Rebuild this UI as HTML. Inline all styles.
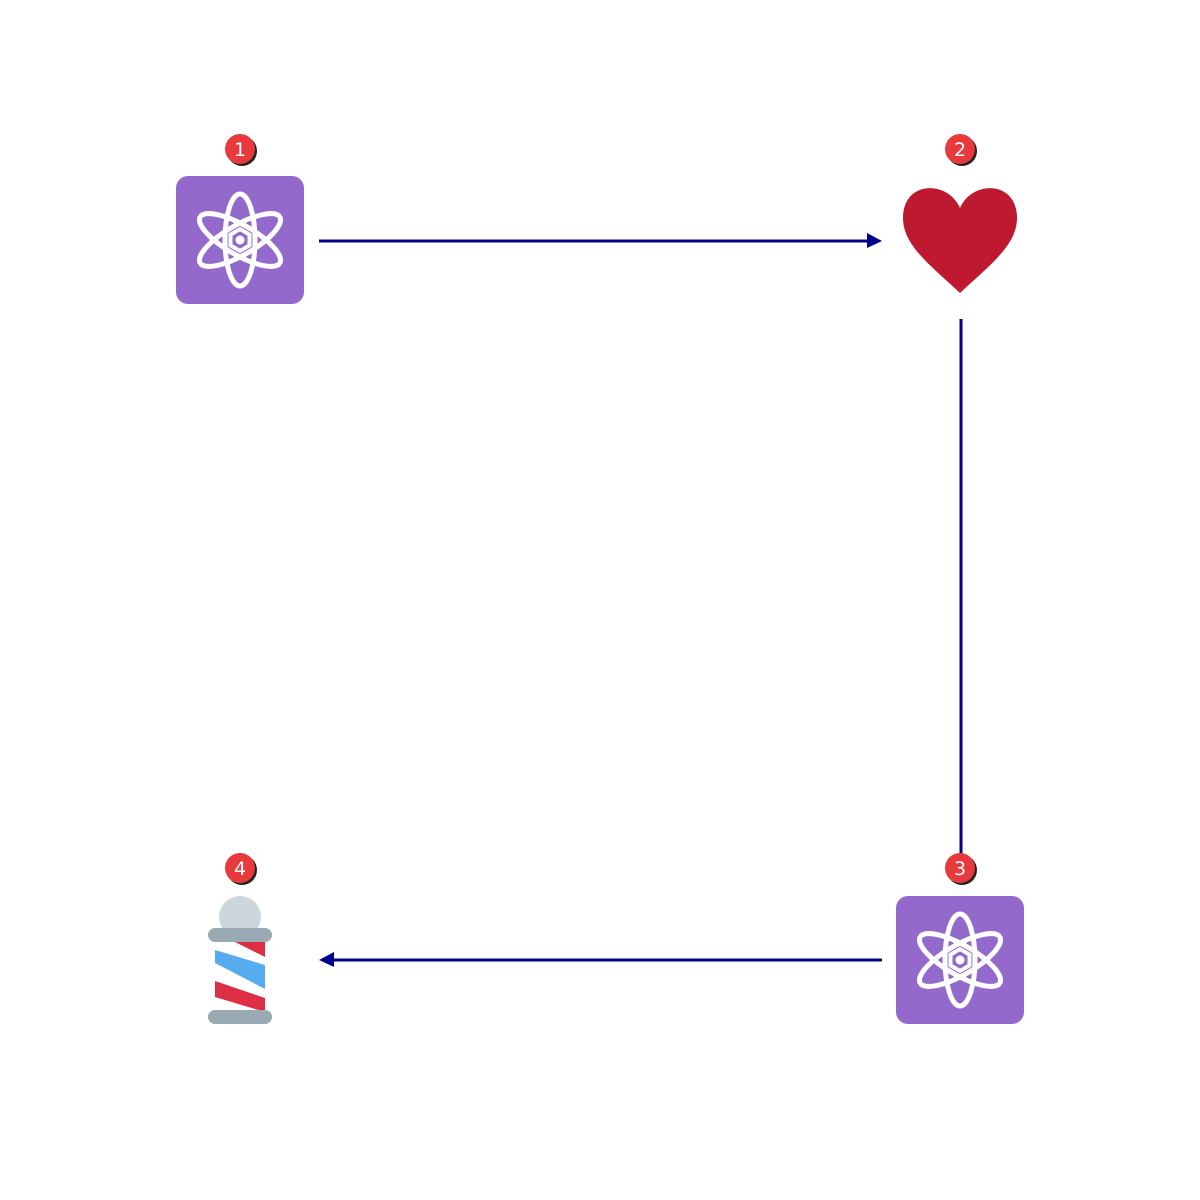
<!DOCTYPE html>
<html><head><meta charset="utf-8"><style>
html,body{margin:0;padding:0;background:#fff;}
svg{display:block;}
text{font-family:"DejaVu Sans","Liberation Sans",sans-serif;}
</style></head><body>
<svg width="1200" height="1200" viewBox="0 0 1200 1200">
<defs>
<g id="atom">
<rect x="-64" y="-64" width="128" height="128" rx="12" fill="#9469cc"/>
<g fill="none" stroke="#fff" stroke-width="5">
<ellipse cx="0" cy="0" rx="15" ry="46"/>
<ellipse cx="0" cy="0" rx="46" ry="15" transform="rotate(30)"/>
<ellipse cx="0" cy="0" rx="46" ry="15" transform="rotate(-30)"/>
<polygon points="0,-11 9.5,-5.5 9.5,5.5 0,11 -9.5,5.5 -9.5,-5.5" fill="#9469cc" stroke-width="4"/>
</g>
<circle r="4.5" fill="#fff"/>
</g>
<g id="badge">
<circle cx="2" cy="2" r="15" fill="#222"/>
<circle cx="0" cy="0" r="15" fill="#e8393d"/>
</g>
<clipPath id="poleclip"><rect x="215" y="941" width="50" height="69"/></clipPath>
</defs>

<!-- edges -->
<g>
<line x1="319" y1="241" x2="870" y2="241" stroke="#00008b" stroke-width="3"/>
<polygon points="867,233 882,241 867,248" fill="#00008b"/>
</g>
<line x1="961" y1="319" x2="961" y2="860" stroke="#00008b" stroke-width="3"/>
<g>
<line x1="331" y1="960" x2="882" y2="960" stroke="#00008b" stroke-width="3"/>
<polygon points="334,952 319,960 334,967" fill="#00008b"/>
</g>

<!-- node 1 -->
<use href="#atom" x="240" y="240"/>
<g transform="translate(240,149)"><use href="#badge"/><text x="0" y="7" text-anchor="middle" font-size="19" fill="#fff">1</text></g>

<!-- node 2 heart -->
<path d="M960,208 C948,180 903,180 903,218 C903,245 930,265 960,293 C990,265 1017,245 1017,218 C1017,180 972,180 960,208 Z" fill="#be1931"/>
<g transform="translate(960,149)"><use href="#badge"/><text x="0" y="7" text-anchor="middle" font-size="19" fill="#fff">2</text></g>

<!-- node 3 -->
<use href="#atom" x="960" y="960"/>
<g transform="translate(960,868)"><use href="#badge"/><text x="0" y="7" text-anchor="middle" font-size="19" fill="#fff">3</text></g>

<!-- node 4 barber pole -->
<g>
<circle cx="240" cy="917" r="21" fill="#ccd6dd"/>
<rect x="215" y="938" width="50" height="74" fill="#fff"/>
<g clip-path="url(#poleclip)">
<polygon points="233,941 265,941 265,957 233,941" fill="#dd2e44"/>
<polygon points="215,950 265,965 265,989 215,963" fill="#55acee"/>
<polygon points="215,981 265,998 265,1012 215,997" fill="#dd2e44"/>
</g>
<rect x="208" y="928" width="64" height="14" rx="7" fill="#99aab5"/>
<rect x="208" y="1010" width="64" height="14" rx="7" fill="#99aab5"/>
</g>
<g transform="translate(240,868)"><use href="#badge"/><text x="0" y="7" text-anchor="middle" font-size="19" fill="#fff">4</text></g>
</svg>
</body></html>
